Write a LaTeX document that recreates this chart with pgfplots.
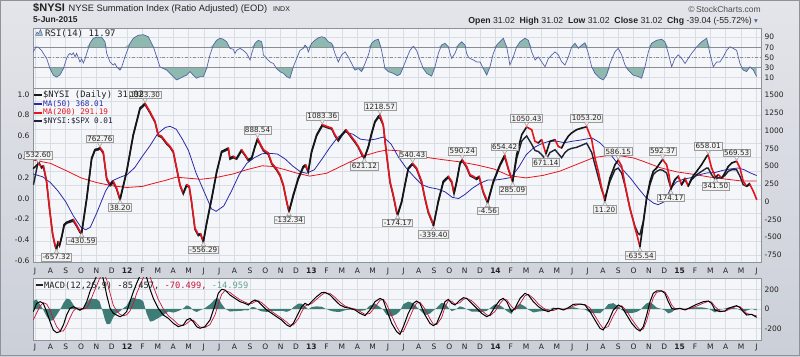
\documentclass[border=0pt]{standalone}
\usepackage{fontspec}
\setmainfont{Liberation Sans}
\newfontfamily\dv{DejaVu Sans}
\newfontfamily\dvm{DejaVu Sans Mono}
\usepackage{pgfplots}
\pgfplotsset{compat=1.18}
\usepackage{pgfplotstable}

\definecolor{bgtop}{HTML}{E3E5EA}
\definecolor{bgbot}{HTML}{CBCFD7}
\definecolor{panel}{HTML}{F4F6F9}
\definecolor{gridc}{HTML}{D9DDE4}
\definecolor{framec}{HTML}{8E939B}
\definecolor{pred}{HTML}{E8141C}
\definecolor{pblack}{HTML}{151515}
\definecolor{ratioc}{HTML}{1E2233}
\definecolor{ma50c}{HTML}{2A2AA8}
\definecolor{rsic}{HTML}{5563A8}
\definecolor{rsifill}{HTML}{8DB9AF}
\definecolor{histc}{HTML}{3E7D76}
\definecolor{histtxt}{HTML}{6A9E98}
\definecolor{sigc}{HTML}{C8143C}
\definecolor{txtc}{HTML}{222222}
\definecolor{refc}{HTML}{8A8E94}
\definecolor{lblfill}{HTML}{F2F2F2}
\definecolor{lbldraw}{HTML}{9A9A9A}

% m = months since Jul 2011 ; p = $NYSI ; c = 1 if next value lower ; r = $NYSI:$SPX
\pgfplotstableread{
m p c r
-0.1 470 0 0.13
0.22 532.6 1 0.36
0.43 490 0 0.29
0.55 505 1 0.30
0.75 300 1 0.16
0.95 -100 1 -0.11
1.15 -450 1 -0.35
1.3 -600 1 -0.455
1.4 -657.3 0 -0.495
1.5 -560 1 -0.43
1.6 -610 0 -0.46
1.75 -480 0 -0.37
1.9 -320 0 -0.265
2.06 -290 0 -0.24
2.28 -270 0 -0.23
2.5 -250 1 -0.22
2.71 -330 1 -0.27
2.93 -416 1 -0.33
3.04 -430.6 0 -0.34
3.37 52 0 -0.01
3.69 614 0 0.375
3.91 735 0 0.46
4.13 745 0 0.465
4.23 762.8 1 0.48
4.45 700 1 0.43
4.67 333 1 0.18
4.89 240 0 0.12
5.1 290 1 0.15
5.32 190 1 0.085
5.54 38.2 0 -0.02
5.97 427 0 0.25
6.4 942 0 0.60
6.84 1317 0 0.855
7.17 1383.3 1 0.90
7.49 1266 1 0.82
7.82 1130 1 0.73
8.03 942 1 0.60
8.25 920 1 0.585
8.58 826 1 0.52
8.79 780 1 0.49
9.01 708 1 0.44
9.23 474 1 0.28
9.45 240 1 0.12
9.66 122 0 0.04
9.88 240 1 0.12
10.05 218 1 0.105
10.2 5 1 -0.04
10.42 -370 1 -0.30
10.64 -460 0 -0.36
10.79 -450 1 -0.35
10.97 -556.3 0 -0.425
11.18 -300 0 -0.25
11.51 52 0 -0.01
11.84 427 0 0.25
12.16 708 0 0.44
12.38 732 0 0.455
12.6 755 1 0.47
12.7 614 0 0.375
12.92 638 1 0.39
13.14 614 0 0.375
13.46 732 1 0.455
13.68 661 1 0.41
13.9 591 0 0.36
14.12 620 0 0.38
14.33 778 0 0.49
14.5 888.5 1 0.56
14.88 732 1 0.455
15.2 685 1 0.42
15.42 544 1 0.33
15.74 460 1 0.27
15.96 380 1 0.215
16.18 240 1 0.12
16.4 5 1 -0.04
16.55 -132.3 0 -0.135
16.83 100 0 0.02
17.15 333 0 0.18
17.48 497 0 0.295
17.63 520 1 0.31
17.8 427 0 0.25
18.02 708 0 0.44
18.35 942 0 0.60
18.72 1083.4 1 0.695
19.0 1060 1 0.68
19.33 1036 1 0.665
19.54 942 1 0.60
19.76 872 0 0.55
19.98 942 0 0.60
20.26 1013 1 0.65
20.52 942 1 0.60
20.85 849 1 0.535
21.06 778 1 0.49
21.28 685 1 0.42
21.46 621.1 0 0.38
21.72 778 0 0.49
21.93 966 0 0.615
22.15 1130 0 0.73
22.37 1200 0 0.775
22.48 1218.6 1 0.77
22.69 1083 1 0.70
22.91 661 1 0.41
23.13 287 1 0.15
23.34 100 1 0.02
23.56 -135 1 -0.14
23.63 -174.2 0 -0.165
23.89 5 0 -0.04
24.1 240 0 0.12
24.32 474 0 0.28
24.6 540.4 1 0.325
24.86 474 1 0.28
25.19 287 1 0.15
25.41 52 1 -0.01
25.62 -135 1 -0.14
25.84 -253 1 -0.22
25.96 -339.4 0 -0.26
26.27 5 0 -0.04
26.6 287 0 0.15
26.93 357 1 0.20
27.15 287 1 0.15
27.3 122 0 0.04
27.47 287 0 0.15
27.69 544 0 0.33
27.84 590.2 1 0.36
28.12 497 1 0.295
28.34 380 1 0.215
28.55 357 1 0.20
28.77 330 0 0.18
28.94 357 1 0.20
29.2 146 1 0.055
29.49 -4.6 0 -0.05
29.86 287 0 0.15
30.29 521 0 0.31
30.6 654.4 1 0.40
30.83 474 1 0.28
31.12 285.1 0 0.16
31.38 661 0 0.38
31.71 942 0 0.55
32.03 1050.4 1 0.60
32.36 1013 1 0.52
32.57 849 1 0.46
32.79 826 0 0.45
33.01 872 1 0.42
33.29 671.1 0 0.37
33.55 849 0 0.44
33.88 872 1 0.467
34.09 778 1 0.43
34.31 755 0 0.39
34.53 849 0 0.44
34.74 919 0 0.467
34.96 966 0 0.48
35.29 1013 0 0.49
35.62 1036 0 0.51
35.94 1053.2 1 0.53
36.27 872 1 0.44
36.48 614 1 0.323
36.7 427 1 0.20
36.92 192 1 0.08
37.13 11.2 0 0.003
37.46 333 0 0.163
37.79 521 0 0.275
38.0 586.2 1 0.29
38.22 500 1 0.243
38.44 240 1 0.12
38.76 -89 1 -0.10
39.09 -370 1 -0.27
39.3 -534 1 -0.34
39.41 -635.5 0 -0.35
39.63 -300 0 -0.221
39.85 52 0 0.003
40.07 287 0 0.131
40.28 427 0 0.227
40.5 474 0 0.259
40.72 544 0 0.275
40.89 592.4 1 0.27
41.15 521 1 0.243
41.3 380 1 0.16
41.43 174.2 0 0.099
41.69 310 0 0.179
41.91 357 1 0.211
42.13 240 0 0.131
42.35 330 1 0.179
42.56 218 0 0.12
42.78 333 0 0.179
43.11 427 0 0.227
43.43 521 0 0.259
43.76 638 0 0.291
43.86 658 1 0.29
44.08 474 1 0.227
44.34 341.5 0 0.179
44.52 380 1 0.20
44.74 333 0 0.195
44.95 404 0 0.22
45.17 497 0 0.26
45.39 544 0 0.275
45.71 569.5 1 0.275
45.93 474 1 0.211
46.14 287 1 0.131
46.36 218 0 0.115
46.58 240 1 0.147
46.8 146 1 nan
47.02 31 1 nan
}\price

\pgfplotstableread{
m v
-0.11 390
0.5 350
1.0 270
1.5 150
2.0 0
2.5 -200
3.0 -360
3.3 -395
3.6 -360
4.0 -170
4.6 150
5.0 290
5.5 340
6.0 380
6.5 480
7.0 640
7.5 790
8.0 960
8.5 1045
8.8 1060
9.2 1020
9.6 880
10.0 720
10.5 400
11.0 150
11.5 -100
11.8 -135
12.3 -60
12.8 150
13.3 380
13.8 540
14.3 620
14.8 675
15.3 680
15.8 670
16.3 600
16.8 500
17.3 420
17.7 400
18.2 450
18.7 600
19.2 760
19.7 900
20.2 980
20.7 950
21.2 880
21.7 865
22.2 880
22.7 910
23.2 810
23.7 620
24.2 470
24.7 350
25.2 240
25.7 200
26.2 180
26.7 140
27.2 60
27.6 45
28.0 100
28.5 190
29.0 260
29.5 305
30.0 305
30.5 320
31.0 340
31.5 480
32.0 660
32.5 760
33.0 815
33.5 850
34.0 850
34.5 830
35.0 850
35.5 865
36.0 885
36.3 895
36.8 830
37.3 720
37.8 580
38.3 450
38.8 330
39.3 190
39.8 60
40.3 -20
40.6 -42
41.0 0
41.4 180
41.8 280
42.3 320
42.8 340
43.3 380
43.8 405
44.3 410
44.8 440
45.3 460
45.8 474
46.2 450
46.6 405
47.02 368
}\mafifty

\pgfplotstableread{
m v
-0.11 585
1.0 540
2.0 440
3.0 335
4.0 270
5.0 225
6.0 200
7.0 215
7.5 245
8.5 300
9.2 345
10.0 330
10.8 315
11.8 340
12.9 390
13.8 450
14.8 505
15.5 495
16.3 450
17.0 405
17.9 360
19.0 400
20.1 515
21.2 630
22.3 700
22.9 727
23.8 715
25.1 635
26.6 590
27.7 560
28.8 516
29.9 460
30.9 365
32.0 335
33.1 370
34.2 430
35.3 525
36.4 620
37.2 645
38.0 650
39.0 615
39.6 570
40.7 480
41.8 420
42.9 385
44.0 345
45.1 315
46.1 290
47.02 291
}\matwo

\pgfplotstableread{
m v
-0.11 61
0.07 71
0.22 70
0.43 64
0.54 58
0.76 48
0.98 28
1.19 15
1.41 11
1.63 15.5
1.85 28
2.06 48
2.17 55
2.28 58
2.39 55
2.5 59
2.61 51
2.71 58
2.93 41
3.04 47
3.15 39
3.26 47
3.37 58
3.58 78
3.8 88
4.02 90
4.34 90
4.56 81
4.67 58
4.89 41
5.1 35
5.21 38
5.32 31.5
5.54 25
5.65 31
5.86 51
6.19 78
6.41 88
6.73 94
7.06 95
7.38 91
7.71 71
7.93 51
8.14 31.5
8.36 28
8.58 25
8.79 18.5
9.01 12
9.23 5.5
9.45 8.8
9.66 12
9.88 15
10.1 22
10.31 15
10.53 8.8
10.75 12
10.97 12
11.18 28
11.4 55
11.62 74.5
11.83 84
12.05 88
12.27 86
12.49 81
12.7 68
12.92 66
13.03 58
13.14 64
13.36 68
13.57 64
13.79 58
14.01 45
14.12 58
14.33 78
14.55 84
14.77 81
14.88 55
15.09 48
15.31 41
15.53 38
15.74 28
15.96 22
16.18 18.5
16.4 12
16.61 8.8
16.83 31.5
17.05 48
17.26 64
17.48 68
17.59 74.5
17.7 71
17.81 61
18.02 78
18.24 84
18.46 89
18.68 91
18.89 89
19.11 81
19.33 78
19.54 58
19.76 41
19.98 55
20.2 61
20.41 51
20.63 38
20.85 25
21.06 28
21.28 22
21.5 38
21.72 55
21.93 78
22.15 84
22.37 86
22.58 64
22.8 28
23.02 22
23.34 18.5
23.6 14
23.8 17
24.0 31.5
24.21 48
24.43 64
24.65 72
24.86 64
25.08 45
25.3 28
25.52 18.5
25.84 13
26.06 31.5
26.28 58
26.49 74.5
26.71 78
26.93 71
27.04 58
27.15 48
27.36 58
27.58 74.5
27.8 81
28.02 74
28.12 58
28.23 51
28.34 48
28.56 45
28.78 41
29.0 41
29.21 28
29.43 15
29.64 31.5
29.86 58
30.08 74.5
30.29 81
30.51 88
30.73 71
30.94 35
31.16 51
31.38 71
31.6 81
31.92 88
32.14 84
32.36 61
32.58 45
32.8 51
33.01 41
33.23 31.5
33.45 48
33.67 55
33.88 61
34.1 55
34.32 41
34.53 35
34.75 51
34.97 71
35.18 78
35.4 68
35.62 74.5
35.83 79
36.05 58
36.27 31.5
36.48 18.5
36.81 8.8
37.02 5.5
37.24 15
37.46 38
37.78 61
38.0 68
38.22 55
38.44 35
38.65 25
38.98 15
39.31 12
39.52 8.8
39.74 31.5
39.96 61
40.17 78
40.5 84
40.83 86
41.04 81
41.26 58
41.48 31.5
41.69 48
41.91 55
42.13 48
42.35 38
42.56 48
42.78 58
43.11 71
43.43 81
43.76 88
43.97 58
44.19 31.5
44.41 41
44.62 41
44.84 51
45.06 64
45.28 71
45.49 68
45.71 64
45.93 38
46.14 25
46.36 22
46.58 31.5
46.8 25
47.02 12
}\rsi

\pgfplotstableread{
m macd sig hist
-0.11 -27 -110 83
0.11 58 -40 98
0.33 75 30 45
0.54 58 65 -7
0.76 -27 50 -77
0.98 -130 -10 -120
1.19 -215 -100 -115
1.41 -243 -180 -63
1.63 -232 -225 -7
1.85 -164 -225 61
2.06 -62 -170 108
2.28 7 -90 97
2.5 24 -20 44
2.71 7 10 -3
2.93 -10 10 -20
3.15 7 0 7
3.37 75 10 65
3.58 178 70 108
3.8 263 160 103
4.02 340 240 100
4.2 390 310 80
4.4 340 360 -20
4.56 230 340 -110
4.67 144 300 -156
4.89 7 160 -153
5.1 -44 40 -84
5.32 -62 -20 -42
5.54 -79 -55 -24
5.75 -62 -70 8
5.97 -27 -60 33
6.19 75 -20 95
6.41 178 60 118
6.62 263 160 103
6.84 340 240 100
7.05 400 320 80
7.28 320 370 -50
7.5 200 330 -130
7.71 109 230 -121
8.03 7 100 -93
8.36 -62 0 -62
8.69 -96 -70 -26
9.01 -147 -110 -37
9.34 -181 -160 -21
9.66 -164 -170 6
9.88 -113 -150 37
10.1 -96 -120 24
10.31 -130 -115 -15
10.53 -181 -150 -31
10.75 -198 -185 -13
11.07 -181 -190 9
11.4 -113 -160 47
11.73 41 -60 101
11.94 161 50 111
12.16 202 150 52
12.38 195 190 5
12.7 144 170 -26
13.03 109 130 -21
13.36 75 95 -20
13.68 58 70 -12
13.9 41 55 -14
14.12 75 55 20
14.33 92 75 17
14.55 75 85 -10
14.77 41 65 -24
15.09 -10 20 -30
15.42 -44 -25 -19
15.74 -79 -60 -19
16.07 -113 -95 -18
16.4 -164 -135 -29
16.61 -181 -165 -16
16.83 -147 -165 18
17.16 -44 -100 56
17.37 24 -30 54
17.59 58 30 28
17.81 41 45 -4
18.02 75 55 20
18.35 127 100 27
18.68 168 145 23
18.89 171 165 6
19.22 144 160 -16
19.54 92 120 -28
19.87 41 70 -29
20.2 17 30 -13
20.52 7 12 -5
20.85 -10 0 -10
21.17 -44 -25 -19
21.5 -68 -55 -13
21.82 -10 -45 35
22.15 75 20 55
22.48 109 90 19
22.69 92 100 -8
22.91 -10 50 -60
23.24 -147 -70 -77
23.56 -232 -180 -52
23.78 -260 -240 -20
24.0 -181 -230 49
24.32 -44 -120 76
24.65 58 0 58
24.86 82 60 22
25.08 58 70 -12
25.41 -62 0 -62
25.73 -147 -100 -47
25.95 -171 -155 -16
26.17 -147 -160 13
26.49 -27 -90 63
26.71 75 20 55
26.93 99 85 14
27.15 58 80 -22
27.36 41 50 -9
27.69 92 65 27
27.91 116 100 16
28.12 109 110 -1
28.45 58 85 -27
28.78 7 35 -28
29.1 -44 -15 -29
29.43 -79 -60 -19
29.64 -62 -70 8
29.97 24 -25 49
30.29 92 55 37
30.51 109 95 14
30.73 75 95 -20
31.05 -27 25 -52
31.27 7 -10 17
31.6 109 55 54
31.92 161 135 26
32.14 144 150 -6
32.47 75 110 -35
32.8 24 50 -26
33.12 -10 10 -20
33.45 -27 -18 -9
33.77 0 -15 15
34.1 7 3 4
34.43 -10 0 -10
34.75 14 2 12
35.07 48 30 18
35.51 51 50 1
35.83 41 46 -5
36.16 -27 10 -37
36.48 -113 -70 -43
36.81 -198 -155 -43
37.02 -215 -200 -15
37.35 -130 -180 50
37.68 -10 -70 60
38.0 41 15 26
38.22 24 32 -8
38.55 -62 -20 -42
38.88 -147 -105 -42
39.2 -205 -175 -30
39.42 -226 -215 -11
39.63 -181 -205 24
39.85 -62 -120 58
40.07 75 5 70
40.28 161 115 46
40.5 185 170 15
40.83 185 185 0
41.04 161 175 -14
41.26 75 120 -45
41.48 7 40 -33
41.69 -3 5 -8
42.02 7 2 5
42.35 -10 0 -10
42.67 14 2 12
43.11 48 30 18
43.54 75 60 15
43.87 82 78 4
44.08 58 72 -14
44.3 -10 25 -35
44.62 -27 -20 -7
44.95 -20 -25 5
45.17 7 -8 15
45.49 24 15 9
45.71 34 28 6
45.93 14 24 -10
46.14 -27 -5 -22
46.36 -62 -45 -17
46.69 -55 -58 3
47.02 -85.457 -70.499 -14.959
}\macdt

\pgfplotstableread{
m p
0.22 532.6
4.23 762.8
7.17 1383.3
14.5 888.5
18.72 1083.4
22.48 1218.6
24.6 540.4
27.84 590.2
30.6 654.4
32.03 1050.4
35.94 1053.2
38.0 586.2
40.89 592.4
43.86 658.0
45.71 569.5
}\peaks

\pgfplotstableread{
m p
1.4 -657.3
3.04 -430.6
5.54 38.2
10.97 -556.3
16.55 -132.3
21.46 621.1
23.63 -174.2
25.96 -339.4
29.49 -4.6
31.12 285.1
33.29 671.1
37.13 11.2
39.41 -635.5
41.43 174.2
44.34 341.5
}\troughs

\pgfplotsset{
  base/.style={
    scale only axis, width=728pt, anchor=south west,
    xmin=-0.13, xmax=47.3,
    xtick={0,...,47},
    tick style={draw=none},
    /pgf/number format/assume math mode=true,
    /pgf/number format/1000 sep={},
    tick label style={font=\dv\fontsize{7.5}{9}\selectfont, text=txtc},
    grid style={gridc, line width=0.5pt},
    minor grid style={gridc, line width=0.5pt},
    axis line style={framec, line width=0.6pt},
  },
  months/.style={xticklabels={J,A,S,O,N,D,\textbf{12},F,M,A,M,J,J,A,S,O,N,D,\textbf{13},F,M,A,M,J,J,A,S,O,N,D,\textbf{14},F,M,A,M,J,J,A,S,O,N,D,\textbf{15},F,M,A,M,J}},
}
\tikzset{lbl/.style={draw=lbldraw, fill=lblfill, inner sep=1.1pt, font=\dv\fontsize{7.2}{8}\selectfont, text=txtc, line width=0.5pt}}

\begin{document}
\begin{tikzpicture}
\useasboundingbox (0pt,0pt) rectangle (800pt,356pt);
\shade[top color=bgtop, bottom color=bgbot] (0pt,0pt) rectangle (800pt,356pt);
\draw[framec, line width=0.8pt] (0.4pt,0.4pt) rectangle (799.6pt,355.6pt);

% header
\node[anchor=base west, inner sep=0, font=\fontsize{11}{12}\selectfont\bfseries, text=txtc] at (33pt,344.5pt) {\$NYSI};
\node[anchor=base west, inner sep=0, font=\fontsize{9.3}{10}\selectfont, text=txtc] at (68.5pt,344.5pt) {NYSE Summation Index (Ratio Adjusted) (EOD)};
\node[anchor=base west, inner sep=0, font=\fontsize{7}{8}\selectfont, text=txtc] at (273pt,344.5pt) {INDX};
\node[anchor=base west, inner sep=0, font=\fontsize{8.5}{9}\selectfont\bfseries, text=txtc] at (33pt,333pt) {5-Jun-2015};
\node[anchor=base east, inner sep=0, font=\fontsize{8.5}{9}\selectfont, text=gray!60!black] at (761pt,343.5pt) {\textcopyright\,StockCharts.com};
\node[anchor=base east, inner sep=0, font=\fontsize{8.7}{9}\selectfont, text=txtc] at (752pt,332pt) {\textbf{Open} 31.02\ \ \textbf{High} 31.02\ \ \textbf{Low} 31.02\ \ \textbf{Close} 31.02\ \ \textbf{Chg} -39.04 (-55.72\%)};
\node[anchor=base west, inner sep=0, font=\dv\fontsize{7.5}{8}\selectfont, text=rsic] at (754pt,332pt) {▾};

% ---------------- RSI panel
\begin{axis}[base, at={(33pt,268pt)}, height=60pt,
  ymin=-10.5, ymax=108.3, ytick={10,30,50,70,90}, yticklabel pos=right,
  xticklabels={}, xmajorgrids, ymajorgrids,
  axis background/.style={fill=panel}]
\addplot[fill=rsifill, draw=none] table[x=m, y expr={max(\thisrow{v},70)}]{\rsi} -- (axis cs:47.02,70) -- (axis cs:-0.11,70) -- cycle;
\addplot[fill=rsifill, draw=none] table[x=m, y expr={min(\thisrow{v},30)}]{\rsi} -- (axis cs:47.02,30) -- (axis cs:-0.11,30) -- cycle;
\addplot[refc, line width=0.8pt] coordinates {(-0.13,70) (47.3,70)};
\addplot[refc, line width=0.8pt] coordinates {(-0.13,30) (47.3,30)};
\addplot[refc, line width=0.6pt, dash dot] coordinates {(-0.13,50) (47.3,50)};
\addplot[rsic, line width=0.7pt] table[x=m,y=v]{\rsi};
\node[anchor=west, inner sep=0, font=\dvm\fontsize{9}{10}\selectfont, text=txtc] at (rel axis cs:0,1) [xshift=12pt, yshift=-5.3pt] {RSI(14) 11.97};
\end{axis}
% RSI legend icon
\draw[rsic, fill=rsifill!80, line width=0.5pt, line join=round] (35.5pt,320.5pt) -- (37pt,324pt) -- (38.5pt,322.3pt) -- (40.5pt,326.5pt) -- (42.5pt,320.5pt) -- cycle;

% ---------------- main panel: price axis with grid and MAs
\begin{axis}[base, months, at={(33pt,94pt)}, height=174pt,
  xticklabel style={yshift=-2.5pt},
  ymin=-848, ymax=1599, ytick={-750,-500,...,1500},
  minor ytick={-754,-557,-360,-163,34,231,427,624,821,1018,1215,1412},
  yticklabel pos=right, xmajorgrids, yminorgrids,
  axis background/.style={fill=panel}]
\addplot[pred, line width=0.8pt] table[x=m,y=v]{\matwo};
\addplot[ma50c, line width=0.8pt] table[x=m,y=v]{\mafifty};
\end{axis}

% ratio axis (left)
\begin{axis}[base, at={(33pt,94pt)}, height=174pt,
  ymin=-0.6125, ymax=1.0606, ytick={-0.6,-0.4,-0.2,0,0.2,0.4,0.6,0.8,1.0},
  yticklabel style={/pgf/number format/fixed, /pgf/number format/fixed zerofill, /pgf/number format/precision=1},
  yticklabel pos=left, xticklabels={}, axis line style={draw=none}]
\addplot[ratioc, line width=1.4pt, unbounded coords=jump] table[x=m,y=r]{\price};
\end{axis}

% price line, labels, legend
\begin{axis}[base, at={(33pt,94pt)}, height=174pt,
  ymin=-848, ymax=1599, hide axis, clip=false,
  legend style={draw=none, fill=none, at={(0,1)}, anchor=north west, xshift=0pt, yshift=-1.5pt,
    font=\dvm\fontsize{7.7}{8}\selectfont, inner sep=0.5pt, row sep=-0.6pt,
    nodes={inner sep=0.9pt}},
  legend cell align=left,
  legend image code/.code={\draw[#1] (0pt,0pt) -- (7pt,0pt);}]
\addplot[mesh, point meta=explicit, point meta min=0, point meta max=1,
  colormap={pr}{color(0)=(pblack) color(1)=(pred)}, shader=flat corner,
  line width=1.6pt, line cap=round, forget plot] table[x=m,y=p,meta=c]{\price};
\addplot[only marks, mark=triangle*, mark size=2.6pt, forget plot,
  mark options={yshift=3.3pt, rotate=180, fill=lblfill, draw=lbldraw, line width=0.5pt}] table[x=m,y=p]{\peaks};
\addplot[only marks, mark=triangle*, mark size=2.6pt, forget plot,
  mark options={yshift=-3.3pt, fill=lblfill, draw=lbldraw, line width=0.5pt}] table[x=m,y=p]{\troughs};
\node[lbl, anchor=south, yshift=4.5pt] at (axis cs:0.22,532.6) {532.60};
\node[lbl, anchor=south, yshift=4.5pt] at (axis cs:4.23,762.8) {762.76};
\node[lbl, anchor=south, yshift=4.5pt] at (axis cs:7.17,1383.3) {1383.30};
\node[lbl, anchor=south, yshift=4.5pt] at (axis cs:14.5,888.5) {888.54};
\node[lbl, anchor=south, yshift=4.5pt] at (axis cs:18.72,1083.4) {1083.36};
\node[lbl, anchor=south, yshift=4.5pt] at (axis cs:22.48,1218.6) {1218.57};
\node[lbl, anchor=south, yshift=4.5pt] at (axis cs:24.6,540.4) {540.43};
\node[lbl, anchor=south, yshift=4.5pt] at (axis cs:27.84,590.2) {590.24};
\node[lbl, anchor=south, yshift=4.5pt] at (axis cs:30.6,654.4) {654.42};
\node[lbl, anchor=south, yshift=4.5pt] at (axis cs:32.03,1050.4) {1050.43};
\node[lbl, anchor=south, yshift=4.5pt] at (axis cs:35.94,1053.2) {1053.20};
\node[lbl, anchor=south, yshift=4.5pt] at (axis cs:38.0,586.2) {586.15};
\node[lbl, anchor=south, yshift=4.5pt] at (axis cs:40.89,592.4) {592.37};
\node[lbl, anchor=south, yshift=4.5pt] at (axis cs:43.86,658.0) {658.01};
\node[lbl, anchor=south, yshift=4.5pt] at (axis cs:45.71,569.5) {569.53};
\node[lbl, anchor=north, yshift=-4.5pt] at (axis cs:1.4,-657.3) {-657.32};
\node[lbl, anchor=north, yshift=-4.5pt] at (axis cs:3.04,-430.6) {-430.59};
\node[lbl, anchor=north, yshift=-4.5pt] at (axis cs:5.54,38.2) {38.20};
\node[lbl, anchor=north, yshift=-4.5pt] at (axis cs:10.97,-556.3) {-556.29};
\node[lbl, anchor=north, yshift=-4.5pt] at (axis cs:16.55,-132.3) {-132.34};
\node[lbl, anchor=north, yshift=-4.5pt] at (axis cs:21.46,621.1) {621.12};
\node[lbl, anchor=north, yshift=-4.5pt] at (axis cs:23.63,-174.2) {-174.17};
\node[lbl, anchor=north, yshift=-4.5pt] at (axis cs:25.96,-339.4) {-339.40};
\node[lbl, anchor=north, yshift=-4.5pt] at (axis cs:29.49,-4.6) {-4.56};
\node[lbl, anchor=north, yshift=-4.5pt] at (axis cs:31.12,285.1) {285.09};
\node[lbl, anchor=north, yshift=-4.5pt] at (axis cs:33.29,671.1) {671.14};
\node[lbl, anchor=north, yshift=-4.5pt] at (axis cs:37.13,11.2) {11.20};
\node[lbl, anchor=north, yshift=-4.5pt] at (axis cs:39.41,-635.5) {-635.54};
\node[lbl, anchor=north, yshift=-4.5pt] at (axis cs:41.43,174.2) {174.17};
\node[lbl, anchor=north, yshift=-4.5pt] at (axis cs:44.34,341.5) {341.50};
\addlegendimage{pblack, line width=1.6pt}
\addlegendentry{\fontsize{8.8}{9}\selectfont\textcolor{txtc}{\$NYSI (Daily) 31.02}}
\addlegendimage{ma50c, line width=1.6pt}
\addlegendentry{\textcolor{ma50c}{MA(50) 368.01}}
\addlegendimage{pred, line width=1.6pt}
\addlegendentry{\textcolor{pred}{MA(200) 291.19}}
\addlegendimage{ratioc, line width=1.6pt}
\addlegendentry{\textcolor{ratioc}{\$NYSI:\$SPX 0.01}}
\end{axis}

% ---------------- MACD panel
\begin{axis}[base, months, at={(33pt,16pt)}, height=62pt,
  xticklabel style={yshift=-0.5pt},
  ymin=-318, ymax=318, ytick={-200,0,200}, minor ytick={-100,100},
  yticklabel pos=right, xmajorgrids, ymajorgrids, yminorgrids,
  axis background/.style={fill=panel}]
\addplot[fill=histc, draw=none] table[x=m,y=hist]{\macdt} \closedcycle;
\addplot[sigc, line width=0.7pt] table[x=m,y=sig]{\macdt};
\addplot[black, line width=1pt] table[x=m,y=macd]{\macdt};
\node[anchor=west, inner sep=0, font=\dvm\fontsize{8.7}{10}\selectfont, text=txtc] at (rel axis cs:0,1) [xshift=3pt, yshift=-7.7pt] {\rule[0.28em]{6.5pt}{1.6pt}\,MACD(12,26,9) -85.457, \textcolor{sigc}{-70.499,} \textcolor{histtxt}{-14.959}};
\end{axis}
\end{tikzpicture}
\end{document}
